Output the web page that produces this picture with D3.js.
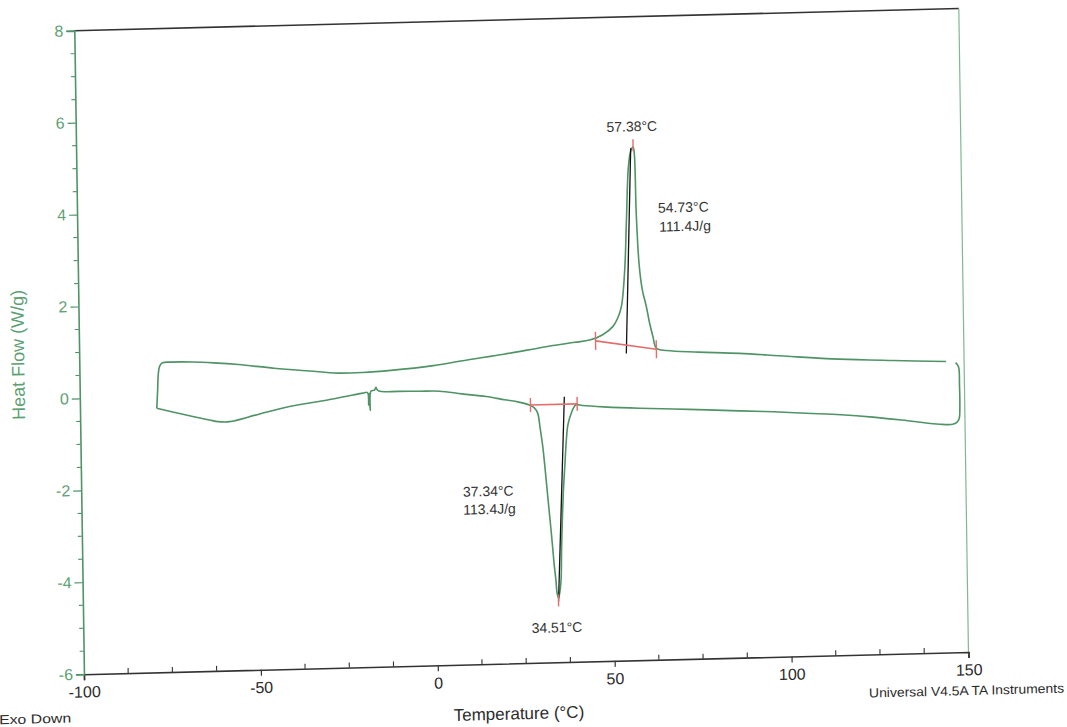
<!DOCTYPE html>
<html>
<head>
<meta charset="utf-8">
<script src="https://cdn.jsdelivr.net/npm/d3@7"></script>
<style>
  html, body { margin: 0; padding: 0; background: #fff; }
  svg { display: block; }
  text { font-family: "Liberation Sans", Arial, sans-serif; }
</style>
</head>
<body>
<svg id="chart" width="1067" height="727"></svg>
<script>
// ---------------- data ----------------
const xDomain = [-100, 150];
const yDomain = [-6, 8];
const xMajorTicks = [-100, -50, 0, 50, 100, 150];
const xMinorStep = 12.5;
const yMajorTicks = [-6, -4, -2, 0, 2, 4, 6, 8];
const yMinorStep = 0.5;

// heating branch (upper trace, endotherm up)
const heatT  = [-78.3, -78.0, -77.7, -77.3, -76.5, -74, -68, -62, -55, -45, -35, -27, -20, -12, 0, 10, 20, 32, 40, 44.3, 48, 50.9, 52.3, 53.4, 54.5, 55.2, 55.9, 56.5, 57.0, 57.4, 57.7, 58.0, 58.6, 59.4, 60.45, 61.3, 62.2, 63.1, 66, 75, 86.6, 100, 114.8, 130, 144.9];
const heatHF = [-0.256, 0.10, 0.50, 0.66, 0.73, 0.74, 0.73, 0.70, 0.65, 0.55, 0.47, 0.41, 0.41, 0.44, 0.52, 0.63, 0.73, 0.87, 0.95, 0.99, 1.10, 1.27, 1.45, 1.70, 2.50, 3.58, 4.67, 5.02, 5.14, 5.16, 5.02, 3.70, 2.60, 2.05, 1.69, 1.33, 1.03, 0.78, 0.72, 0.67, 0.62, 0.53, 0.44, 0.38, 0.33];

// cooling branch (end-of-heat hook, then lower trace, exotherm down)
const coolT  = [147.6, 148.4, 148.6, 148.6, 148.4, 147.7, 146.5, 142.8, 135, 124, 115, 105.2, 96, 86.3, 72, 58.1, 48, 42, 40.2, 39.4, 38.8, 38.2, 37.7, 37.2, 36.8, 36.3, 35.9, 35.5, 35.2, 34.8, 34.4, 34.0, 33.75, 33.3, 32.95, 32.4, 31.8, 31.2, 30.6, 29.9, 29.3, 28.3, 27.0, 24, 20, 14.8, 8, 1.7, -4, -10, -15.3, -16.0, -16.3, -16.7, -17.7, -18.0, -18.2, -18.4, -18.7, -20, -22.8, -30, -40.8, -50, -57.8, -61, -63.45, -70, -78.3];
const coolHF = [0.30, 0.21, -0.20, -0.70, -0.91, -1.00, -1.04, -1.03, -0.95, -0.84, -0.77, -0.72, -0.67, -0.63, -0.57, -0.52, -0.47, -0.43, -0.41, -0.48, -0.59, -0.72, -0.88, -1.25, -1.68, -2.20, -2.76, -3.50, -4.21, -4.48, -4.61, -4.48, -4.21, -3.85, -3.48, -2.95, -2.39, -1.82, -1.30, -0.88, -0.57, -0.45, -0.39, -0.32, -0.26, -0.18, -0.11, -0.04, -0.03, -0.02, -0.01, 0.03, 0.08, 0.02, 0.00, -0.42, -0.05, -0.30, -0.03, -0.04, -0.074, -0.17, -0.29, -0.45, -0.587, -0.58, -0.54, -0.42, -0.256];

// peak analysis (melting and crystallisation)
const meltBaselineT  = [45.96, 63.1];
const meltBaselineHF = [0.97, 0.755];
const meltPeak = [57.38, 5.16];
const meltOnsetLineT  = [54.6, 56.7];
const meltOnsetLineHF = [0.68, 5.14];
const meltLabels = ["57.38°C", "54.73°C", "111.4J/g"];

const crystBaselineT  = [27.3, 40.5];
const crystBaselineHF = [-0.39, -0.39];
const crystPeak = [34.4, -4.61];
const crystOnsetLineT  = [36.9, 34.4];
const crystOnsetLineHF = [-0.23, -4.68];
const crystLabels = ["34.51°C", "37.34°C", "113.4J/g"];

const xTitle = "Temperature (°C)";
const yTitle = "Heat Flow (W/g)";
const exoText = "Exo Down";
const instText = "Universal V4.5A TA Instruments";

// ---------------- drawing ----------------
const W = 884.5, H = 643.5;
const green = "#4f9366";
const greenText = "#5c9f73";
const red = "#e36d6d";
const dark = "#2b2b2b";
const fmt = d => String(d);   // plain hyphen-minus like the original print

const svg = d3.select("#chart");
svg.append("rect").attr("width", 1067).attr("height", 727).attr("fill", "#fff");

// the scanned sheet is slightly tilted: an affine frame for the plot
const g = svg.append("g").attr("transform", "matrix(1,-0.0251,0.0150,1,74.3,30.7)");

const x = d3.scaleLinear().domain(xDomain).range([0, W]);
const y = d3.scaleLinear().domain(yDomain).range([H, 0]);

// frame: top dark, right green
g.append("line").attr("x1", 0).attr("x2", W).attr("y1", 0).attr("y2", 0)
  .attr("stroke", "#333").attr("stroke-width", 1.6);
g.append("line").attr("x1", W).attr("x2", W).attr("y1", 0).attr("y2", H)
  .attr("stroke", "#7fb893").attr("stroke-width", 1.2);

// x axis: major ticks down with labels, minor ticks up
const xAxis = g.append("g").attr("transform", `translate(0,${H})`)
  .call(d3.axisBottom(x).tickValues(xMajorTicks).tickSize(6).tickPadding(6).tickFormat(fmt));
xAxis.select(".domain").attr("stroke", "#333").attr("stroke-width", 1.6);
xAxis.selectAll(".tick line").attr("stroke", "#333").attr("stroke-width", 1.2);
xAxis.selectAll(".tick text").attr("fill", dark).attr("font-size", 16)
  .attr("font-family", "'Liberation Sans', Arial, sans-serif");
const xMinor = d3.range(xDomain[0], xDomain[1] + 0.001, xMinorStep).filter(v => !xMajorTicks.includes(v));
g.append("g").selectAll("line").data(xMinor).join("line")
  .attr("x1", d => x(d)).attr("x2", d => x(d)).attr("y1", H).attr("y2", H - 5)
  .attr("stroke", "#333").attr("stroke-width", 1.1);

// y axis: green, ticks outward
const yAxis = g.append("g")
  .call(d3.axisLeft(y).tickValues(yMajorTicks).tickSize(8).tickPadding(3).tickFormat(fmt));
yAxis.select(".domain").attr("stroke", green).attr("stroke-width", 1.6);
yAxis.selectAll(".tick line").attr("stroke", green).attr("stroke-width", 1.2);
yAxis.selectAll(".tick text").attr("fill", greenText).attr("font-size", 16)
  .attr("font-family", "'Liberation Sans', Arial, sans-serif");
const yMinor = d3.range(yDomain[0], yDomain[1] + 0.001, yMinorStep).filter(v => !yMajorTicks.includes(v));
g.append("g").selectAll("line").data(yMinor).join("line")
  .attr("x1", 0).attr("x2", -4).attr("y1", d => y(d)).attr("y2", d => y(d))
  .attr("stroke", green).attr("stroke-width", 1.1);

// curves
const line = d3.line().x(d => x(d[0])).y(d => y(d[1])).curve(d3.curveCatmullRom.alpha(0.5));
const heat = heatT.map((t, i) => [t, heatHF[i]]);
const cool = coolT.map((t, i) => [t, coolHF[i]]);
g.append("path").attr("d", line(heat)).attr("fill", "none").attr("stroke", green).attr("stroke-width", 1.6);
g.append("path").attr("d", line(cool)).attr("fill", "none").attr("stroke", green).attr("stroke-width", 1.6);

// analysis marks
const straight = d3.line().x(d => x(d[0])).y(d => y(d[1]));
function drawPeak(bT, bHF, onT, onHF, peak, tickHalf) {
  g.append("path").attr("d", straight(onT.map((t, i) => [t, onHF[i]])))
    .attr("fill", "none").attr("stroke", "#111").attr("stroke-width", 1.3);
  g.append("path").attr("d", straight(bT.map((t, i) => [t, bHF[i]])))
    .attr("fill", "none").attr("stroke", red).attr("stroke-width", 1.6);
  bT.forEach((t, i) => {
    g.append("line").attr("x1", x(t)).attr("x2", x(t))
      .attr("y1", y(bHF[i]) - tickHalf).attr("y2", y(bHF[i]) + tickHalf)
      .attr("stroke", red).attr("stroke-width", 1.4);
  });
  const dir = peak[1] > 0 ? -1 : 1;
  g.append("line").attr("x1", x(peak[0])).attr("x2", x(peak[0]))
    .attr("y1", y(peak[1]) - 4 * dir).attr("y2", y(peak[1]) + 8 * dir)
    .attr("stroke", red).attr("stroke-width", 1.4);
}
drawPeak(meltBaselineT, meltBaselineHF, meltOnsetLineT, meltOnsetLineHF, meltPeak, 9);
drawPeak(crystBaselineT, crystBaselineHF, crystOnsetLineT, crystOnsetLineHF, crystPeak, 7);

// annotation texts
const ann = g.append("g").attr("fill", "#333").attr("font-size", 14);
ann.append("text").attr("x", x(meltPeak[0]) - 1).attr("y", y(meltPeak[1]) - 16)
  .attr("text-anchor", "middle").text(meltLabels[0]);
ann.append("text").attr("x", x(meltPeak[0]) + 24).attr("y", y(meltPeak[1]) + 66).text(meltLabels[1]);
ann.append("text").attr("x", x(meltPeak[0]) + 25).attr("y", y(meltPeak[1]) + 85).text(meltLabels[2]);
ann.append("text").attr("x", x(crystPeak[0]) - 2).attr("y", y(crystPeak[1]) + 34)
  .attr("text-anchor", "middle").text(crystLabels[0]);
ann.append("text").attr("x", x(crystPeak[0]) - 94).attr("y", y(crystPeak[1]) - 104).text(crystLabels[1]);
ann.append("text").attr("x", x(crystPeak[0]) - 94).attr("y", y(crystPeak[1]) - 86).text(crystLabels[2]);

// titles and footers
g.append("text").attr("x", W / 2 - 8).attr("y", H + 56).attr("text-anchor", "middle")
  .attr("fill", dark).attr("font-size", 17).text(xTitle);
g.append("text").attr("transform", `translate(-55,${H / 2 + 1}) rotate(-90)`)
  .attr("text-anchor", "middle").attr("fill", greenText).attr("font-size", 18).text(yTitle);
g.append("text").attr("x", -85.5).attr("y", H + 48).attr("fill", dark).attr("font-size", 13)
  .attr("textLength", 72).attr("lengthAdjust", "spacingAndGlyphs").text(exoText);
g.append("text").attr("x", 784.5).attr("y", H + 43).attr("fill", dark).attr("font-size", 13)
  .attr("textLength", 195).attr("lengthAdjust", "spacingAndGlyphs").text(instText);
</script>
</body>
</html>
